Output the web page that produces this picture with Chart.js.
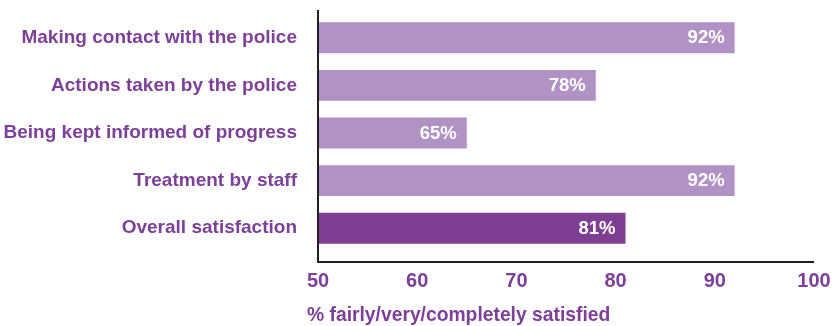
<!DOCTYPE html>
<html>
<head>
<meta charset="utf-8">
<script src="https://cdn.jsdelivr.net/npm/chart.js@4/dist/chart.umd.min.js"></script>
<style>
  html, body { margin: 0; padding: 0; background: #fff; }
  #wrap { width: 837px; height: 326px; }
</style>
</head>
<body>
<div id="wrap"><canvas id="satisfaction"></canvas></div>
<script>
const categories = ['Making contact with the police', 'Actions taken by the police', 'Being kept informed of progress', 'Treatment by staff', 'Overall satisfaction'];
const satisfied = [92, 78, 65, 92, 81];
const xTicks = [50, 60, 70, 80, 90, 100];
const axisTitle = '% fairly/very/completely satisfied';

const purple = '#7d3f97';
const lightBar = '#b092c5';
const darkBar = '#7e3f93';
const fontFamily = "'Liberation Sans', Arial, sans-serif";

// white value text at the end of each bar, plus axis lines and the axis title
const barText = {
  id: 'barText',
  afterDatasetsDraw(chart) {
    const ctx = chart.ctx;
    const meta = chart.getDatasetMeta(0);
    ctx.save();
    ctx.fillStyle = '#fff';
    ctx.font = 'bold 18.5px ' + fontFamily;
    ctx.textAlign = 'right';
    ctx.textBaseline = 'middle';
    meta.data.forEach((bar, i) => {
      ctx.fillText(satisfied[i] + '%', bar.x - 10, bar.y + 0.5);
    });
    ctx.restore();
  },
  afterDraw(chart) {
    const ctx = chart.ctx;
    const a = chart.chartArea;
    const bottom = a.bottom + 10;
    ctx.save();
    ctx.strokeStyle = '#231f20';
    ctx.lineWidth = 2;
    ctx.beginPath();
    ctx.moveTo(a.left, a.top - 4);
    ctx.lineTo(a.left, bottom);
    ctx.lineTo(a.right, bottom);
    ctx.stroke();
    ctx.fillStyle = purple;
    ctx.font = 'bold 19.3px ' + fontFamily;
    ctx.textAlign = 'left';
    ctx.textBaseline = 'middle';
    ctx.fillText(axisTitle, a.left - 11, 316);
    ctx.restore();
  }
};

new Chart(document.getElementById('satisfaction'), {
  type: 'bar',
  data: {
    labels: categories,
    datasets: [{
      data: satisfied,
      backgroundColor: categories.map(c => c === 'Overall satisfaction' ? darkBar : lightBar),
      borderWidth: 0,
      barPercentage: 0.65,
      categoryPercentage: 1
    }]
  },
  options: {
    indexAxis: 'y',
    responsive: true,
    maintainAspectRatio: false,
    animation: false,
    layout: { padding: { top: 14, right: 23, bottom: 0, left: 0 } },
    plugins: {
      legend: { display: false },
      tooltip: { enabled: false }
    },
    scales: {
      x: {
        min: 50,
        max: 100,
        afterBuildTicks(scale) { scale.ticks = xTicks.map(v => ({ value: v })); },
        afterFit(scale) {
          scale.height = 74;
          scale.paddingLeft = 0;
          scale.paddingRight = 0;
        },
        grid: { display: false, drawTicks: false },
        border: { display: false },
        ticks: {
          color: purple,
          font: { family: fontFamily, size: 20, weight: 'bold' },
          padding: 17,
          maxRotation: 0
        }
      },
      y: {
        afterFit(scale) {
          scale.width = 318;
          scale.paddingTop = 0;
          scale.paddingBottom = 0;
        },
        grid: { display: false, drawTicks: false },
        border: { display: false },
        ticks: {
          color: purple,
          font: { family: fontFamily, size: 19, weight: 'bold' },
          padding: 21
        }
      }
    }
  },
  plugins: [barText]
});
</script>
</body>
</html>
